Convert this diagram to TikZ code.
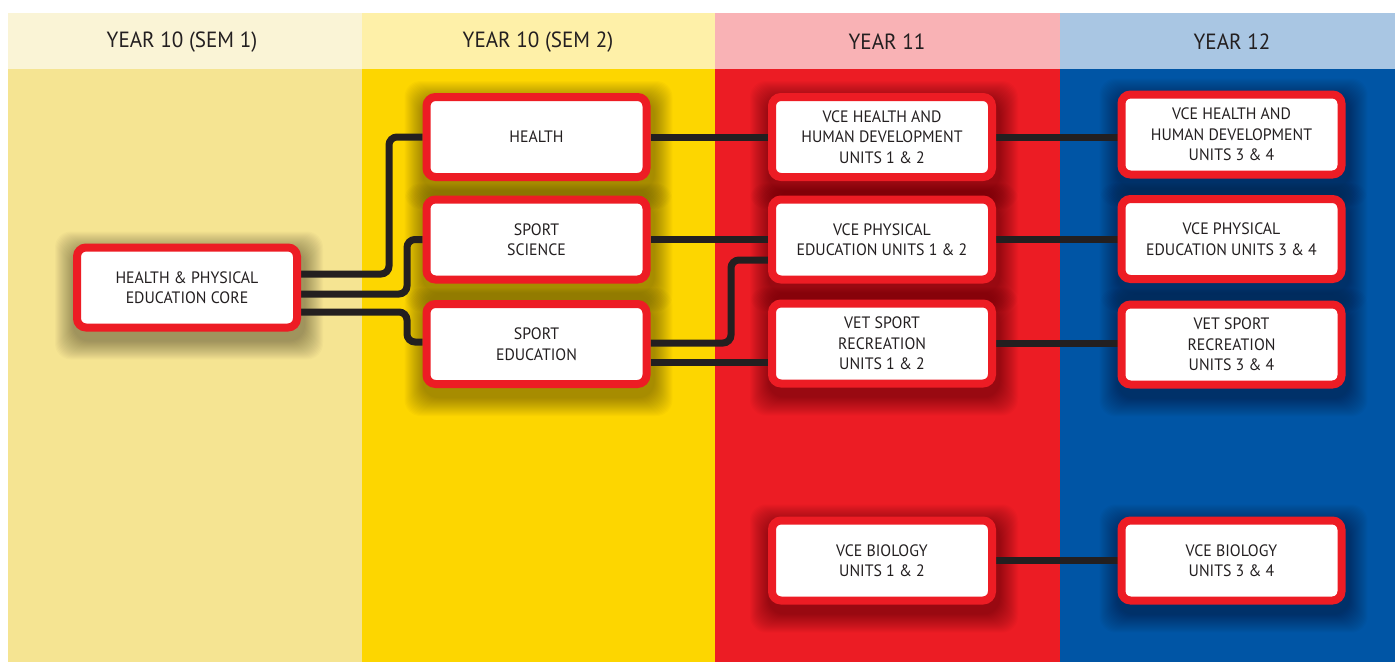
\documentclass[tikz,border=0pt]{standalone}
\usepackage{fontspec}
\setmainfont{PT Sans}[FakeStretch=0.96]
\usetikzlibrary{calc}
\definecolor{hdA}{HTML}{FAF4D6}
\definecolor{hdB}{HTML}{FEF0A8}
\definecolor{hdC}{HTML}{F9B2B5}
\definecolor{hdD}{HTML}{A9C6E3}
\definecolor{bdA}{HTML}{F5E492}
\definecolor{bdB}{HTML}{FDD600}
\definecolor{bdC}{HTML}{EC1C24}
\definecolor{bdD}{HTML}{0055A5}
\definecolor{boxred}{HTML}{ED1C24}
\definecolor{ink}{HTML}{231F20}
\pgfdeclarelayer{bg}
\pgfdeclarelayer{shade}
\pgfdeclarelayer{conn}
\pgfsetlayers{bg,shade,conn,main}
\tikzset{
  course/.style={draw=boxred, line width=8pt, fill=white, rounded corners=9pt,
    minimum width=220pt, minimum height=80pt, inner sep=0pt, align=center,
    text=ink, font=\fontsize{16.5}{20.5}\selectfont},
  link/.style={draw=ink, line width=7pt, rounded corners=8pt},
  head/.style={text=ink, font=\fontsize{22}{26}\selectfont, anchor=center},
  softshade/.style={fill=black, opacity=0.019, rounded corners=16pt}
}
\begin{document}
\begin{tikzpicture}[x=1pt,y=-1pt]
\useasboundingbox (0,0) rectangle (1395,662);
\begin{pgfonlayer}{bg}
  \fill[white] (0,0) rectangle (1395,662);
  \fill[hdA] (8,13) rectangle (362,69);
  \fill[hdB] (362,13) rectangle (715,69);
  \fill[hdC] (715,13) rectangle (1060,69);
  \fill[hdD] (1060,13) rectangle (1395,69);
  \fill[bdA] (8,69) rectangle (362,662);
  \fill[bdB] (362,69) rectangle (715,662);
  \fill[bdC] (715,69) rectangle (1060,662);
  \fill[bdD] (1060,69) rectangle (1395,662);
\end{pgfonlayer}
\node[head] (h1) at (182,42) {YEAR 10 (SEM 1)};
\node[head] (h2) at (538,42) {YEAR 10 (SEM 2)};
\node[head] (h3) at (887,42) {YEAR 11};
\node[head] (h4) at (1232,42) {YEAR 12};

\node[course] (core) at (187,287.5) {HEALTH \& PHYSICAL\\EDUCATION CORE};
\node[course] (health) at (536.5,137) {HEALTH};
\node[course] (ss) at (536.5,239.5) {SPORT\\SCIENCE};
\node[course] (se) at (536.5,344) {SPORT\\EDUCATION};
\node[course] (hhd1) at (882,137) {VCE HEALTH AND\\HUMAN DEVELOPMENT\\UNITS 1 \& 2};
\node[course] (pe1) at (882,239.5) {VCE PHYSICAL\\EDUCATION UNITS 1 \& 2};
\node[course] (vet1) at (882,343.5) {VET SPORT\\RECREATION\\UNITS 1 \& 2};
\node[course] (bio1) at (882,560.5) {VCE BIOLOGY\\UNITS 1 \& 2};
\node[course] (hhd2) at (1231.5,134.5) {VCE HEALTH AND\\HUMAN DEVELOPMENT\\UNITS 3 \& 4};
\node[course] (pe2) at (1231.5,239) {VCE PHYSICAL\\EDUCATION UNITS 3 \& 4};
\node[course] (vet2) at (1231.5,344.5) {VET SPORT\\RECREATION\\UNITS 3 \& 4};
\node[course] (bio2) at (1231.5,560.5) {VCE BIOLOGY\\UNITS 3 \& 4};

\begin{pgfonlayer}{shade}
  \foreach \n in {core,health,ss,se,hhd1,pe1,vet1,bio1,hhd2,pe2,vet2,bio2}{
    \foreach \k in {-2,-1,...,16}{
      \fill[softshade] ($(\n.north west)+(-4-\k+2,-4-\k+8)$) rectangle ($(\n.south east)+(4+\k+2,4+\k+8)$);
    }
  }
\end{pgfonlayer}

\begin{pgfonlayer}{conn}
  \coordinate (c1) at ($(core.east)+(0,-13.5)$);
  \coordinate (c2) at ($(core.east)+(0,6.5)$);
  \coordinate (c3) at ($(core.east)+(0,24.5)$);
  \coordinate (t1) at ($(health.west)+(-33.5,0)$);
  \coordinate (t2) at ($(ss.west)+(-15.5,0)$);
  \coordinate (t3) at ($(se.west)+(-15.5,-2)$);
  \draw[link] (c1) -| (t1) -- (health.west);
  \draw[link] (c2) -| (t2) -- (ss.west);
  \draw[link] (c3) -| (t3) -- (t3 -| se.west);
  \draw[link] (health.east) -- (health.east -| hhd1.west);
  \draw[link] (ss.east) -- (ss.east -| pe1.west);
  \coordinate (s1) at ($(se.east)+(0,-1)$);
  \coordinate (p1) at ($(pe1.west)+(-37,20.5)$);
  \draw[link] (s1) -| (p1) -- (p1 -| pe1.west);
  \coordinate (s2) at ($(se.east)+(0,18)$);
  \draw[link] (s2) -- (s2 -| vet1.west);
  \draw[link] (hhd1.east) -- (hhd1.east -| hhd2.west);
  \draw[link] (pe1.east) -- (pe1.east -| pe2.west);
  \draw[link] (vet1.east) -- (vet1.east -| vet2.west);
  \draw[link] (bio1.east) -- (bio2.west);
\end{pgfonlayer}
\end{tikzpicture}
\end{document}
